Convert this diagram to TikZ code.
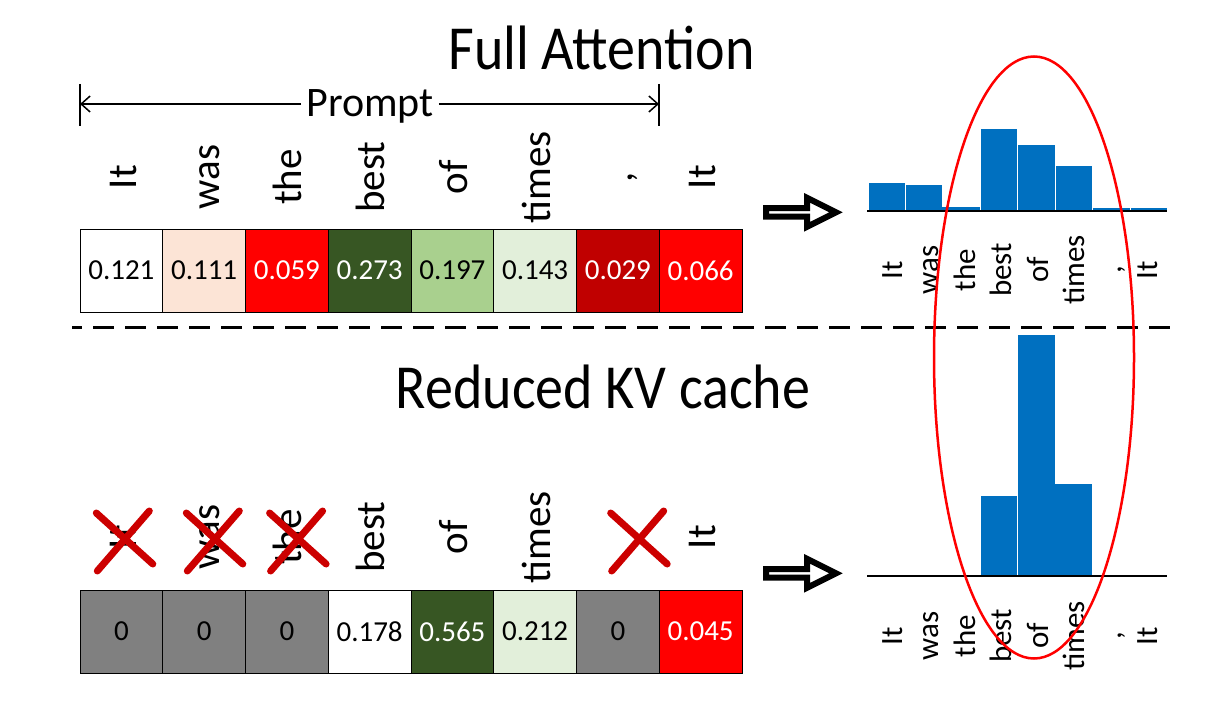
\documentclass[tikz,border=0pt]{standalone}
\usepackage{fontspec}
\usepackage{graphicx}
\setmainfont{Carlito}
\usetikzlibrary{arrows.meta}
\definecolor{cpeach}{HTML}{FCE4D6}
\definecolor{cred}{HTML}{FF0000}
\definecolor{cdkgreen}{HTML}{375623}
\definecolor{cmdgreen}{HTML}{A9D08E}
\definecolor{cltgreen}{HTML}{E2EFDA}
\definecolor{cdkred}{HTML}{C00000}
\definecolor{cgrey}{HTML}{808080}
\definecolor{barblue}{HTML}{0070C0}
\definecolor{xred}{HTML}{CC0000}
\begin{document}
\begin{tikzpicture}[x=1pt,y=-1pt,
  cell/.style={draw=black, line width=0.8pt, minimum width=82.75pt, minimum height=83pt, inner sep=0pt, font=\fontsize{29}{32}\selectfont},
  word/.style={rotate=90, anchor=base, inner sep=0pt, font=\fontsize{41}{44}\selectfont},
  hword/.style={rotate=90, anchor=base, inner sep=0pt, font=\fontsize{31}{34}\selectfont},
  title/.style={anchor=base, inner sep=0pt, font=\fontsize{56}{60}\selectfont},
  bar/.style={fill=barblue, draw=white, line width=0.8pt},
  tinybar/.style={fill=barblue},
  axisline/.style={line width=2pt},
  blockarrow/.style={draw=black, fill=white, line width=6pt},
  xstroke/.style={draw=xred, line width=7pt, line cap=round},
  circ/.style={draw=cred, line width=2.5pt},
  sepline/.style={line width=3pt, dash pattern=on 21pt off 11pt, dash phase=11pt},
  arr/.style={line width=1.5pt, -{Straight Barb[length=9pt,width=16pt]}},
  xmark/.pic={\draw[xstroke] (-28,-28) -- (28.5,23); \draw[xstroke] (25,-30) -- (-27,30);},
  barrow/.pic={\draw[blockarrow, line join=miter] (0,-4.3) -- (41,-4.3) -- (41,-14.5) -- (70,0) -- (41,14.5) -- (41,4.3) -- (0,4.3) -- cycle;},
]
\useasboundingbox (0,0) rectangle (1226,706);

% titles
\node[title] (t1) at (601.5,70) {\scalebox{1}[1.12]{Full Attention}};
\node[title] (t2) at (603,408) {\scalebox{1}[1.12]{Reduced KV cache}};

% prompt bracket
\coordinate (pl) at (80,104);
\coordinate (pr) at (659,104);
\node[font=\fontsize{42}{44}\selectfont, inner sep=5pt, anchor=base] (prompt) at (370,117) {Prompt};
\draw[arr] (prompt.west |- pl) -- (pl);
\draw[arr] (prompt.east |- pr) -- (pr);
\draw[line width=1.5pt] (80,84) -- (80,126);
\draw[line width=1.5pt] (659,84) -- (659,126);

% top words
\foreach \w [count=\i] in {It,was,the,best,of,times,{,},It}
  \node[word] (wa\i) at ({80+82.75*(\i-0.5)+15},177) {\w};

% top cells
\foreach \v/\f/\t [count=\i] in {0.121/white/black,0.111/cpeach/black,0.059/cred/white,0.273/cdkgreen/white,0.197/cmdgreen/black,0.143/cltgreen/black,0.029/cdkred/white,0.066/cred/white}
  \node[cell, fill=\f, text=\t] (a\i) at ({80+82.75*(\i-0.5)},270.5) {\v};

% separator
\draw[sepline] (72,327) -- (1178,327);

% bottom words
\foreach \w [count=\i] in {It,was,the,best,of,times}
  \node[word] (wb\i) at ({80+82.75*(\i-0.5)+15},537) {\w};
\node[word] (wb8) at ({80+82.75*7.5+15},537) {It};

% bottom cells
\foreach \v/\f/\t [count=\i] in {0/cgrey/black,0/cgrey/black,0/cgrey/black,0.178/white/black,0.565/cdkgreen/white,0.212/cltgreen/black,0/cgrey/black,0.045/cred/white}
  \node[cell, fill=\f, text=\t] (b\i) at ({80+82.75*(\i-0.5)},631.5) {\v};

% crosses
\pic at (124.3,541) {xmark};
\pic at (214.3,541) {xmark};
\pic at (297.6,541) {xmark};
\pic at (638.7,541) {xmark};

% block arrows
\pic at (766,212.3) {barrow};
\pic at (766,573.3) {barrow};

% top histogram
\fill[bar] (868,182) rectangle (905,210);
\fill[bar] (905,184) rectangle (942,210);
\fill[tinybar] (942,207) rectangle (980,210);
\fill[bar] (980,128) rectangle (1017.5,210);
\fill[bar] (1017.5,144) rectangle (1055,210);
\fill[bar] (1055,165) rectangle (1092,210);
\fill[tinybar] (1092.5,207.5) rectangle (1129.5,210);
\fill[tinybar] (1130.5,207.5) rectangle (1167,210);
\draw[axisline] (867,210.5) -- (1167,210.5);
\foreach \w [count=\i] in {It,was,the,best,of,times,{,},It}
  \node[hword] (ha\i) at ({902+36.5*(\i-1)},270) {\w};

% bottom histogram
\fill[bar] (980,495) rectangle (1017.5,576);
\fill[bar] (1017.5,334) rectangle (1055,576);
\fill[tinybar] (1055,484) rectangle (1092,576);
\draw[axisline] (867,576) -- (1167,576);
\foreach \w [count=\i] in {It,was,the,best,of,times,{,},It}
  \node[hword] (hb\i) at ({902+36.5*(\i-1)},636) {\w};

% highlight ellipse
\draw[circ] (1034,357.5) ellipse [x radius=100pt, y radius=301pt];
\end{tikzpicture}
\end{document}
